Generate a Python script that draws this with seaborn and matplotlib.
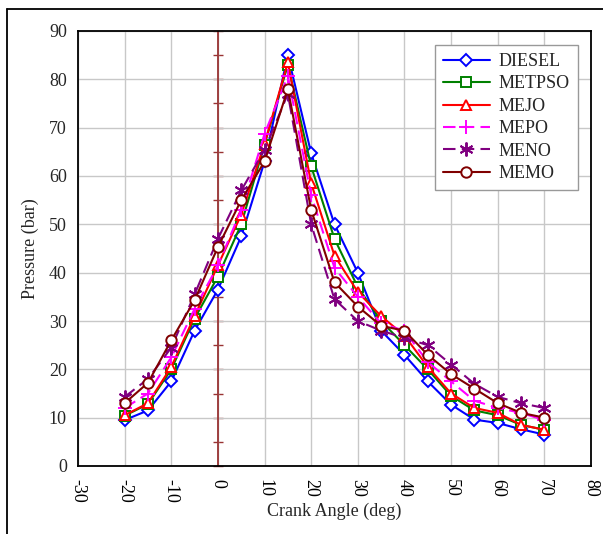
import numpy as np
import pandas as pd
import matplotlib
matplotlib.use("Agg")
import matplotlib.pyplot as plt
import seaborn as sns
from matplotlib.lines import Line2D

# ---- data ----
crank_angle = [-20, -15, -10, -5, 0, 5, 10, 15, 20, 25, 30, 35, 40, 45, 50, 55, 60, 65, 70]
diesel = [9.5, 11.5, 17.5, 28, 36.5, 47.5, 63, 85, 64.7, 50, 40, 28, 23, 17.5, 12.7, 9.6, 8.9, 7.6, 6.5]
metpso = [10.4, 12.8, 20, 30.5, 39.2, 50, 66.5, 83, 62, 47, 37, 30, 25, 20, 14.5, 11.5, 10.5, 8.5, 7.5]
mejo = [10.5, 13, 20.5, 31, 41.5, 52, 66.7, 83.5, 58.5, 43.5, 36, 31, 27, 20.5, 15, 12, 11, 8.5, 7.5]
mepo = [12, 15, 22.5, 32.5, 41.5, 53, 68.7, 80.7, 56, 41, 35, 29.5, 28, 21.5, 17.5, 13.5, 12, 11, 9.5]
meno = [14.3, 18, 24.5, 35.5, 47, 57, 65.4, 77, 50, 34.5, 30, 28, 26.5, 25, 21, 17, 14.3, 13, 12]
memo = [13, 17.2, 26, 34.3, 45.3, 55, 63, 78, 53, 38, 33, 29, 28, 23, 19, 16, 13, 11, 10]

series_names = ["DIESEL", "METPSO", "MEJO", "MEPO", "MENO", "MEMO"]
series_values = [diesel, metpso, mejo, mepo, meno, memo]
colors = ["#0000FF", "#008000", "#FF0000", "#FF00FF", "#800080", "#800000"]
markers = ["D", "s", "^", "+", (6, 2, 0), "o"]
linestyles = ["-", "-", "-", (0, (6, 3)), (0, (6, 3)), "-"]
msizes = [6.5, 7, 7.5, 10, 10, 7.5]

x_ticks = [-30, -20, -10, 0, 10, 20, 30, 40, 50, 60, 70, 80]
y_ticks = [0, 10, 20, 30, 40, 50, 60, 70, 80, 90]

sns.set_style("white")
plt.rcParams["font.family"] = ["Liberation Serif", "DejaVu Serif"]

fig = plt.figure(figsize=(6.03, 5.34), dpi=100)
ax = fig.add_axes([78 / 603, 1 - 466 / 534, (591 - 78) / 603, (466 - 31) / 534])

ax.grid(True, color="#c8c8c8", linewidth=1.0)
ax.set_axisbelow(True)

# vertical axis line at crank angle 0
ax.axvline(0, color="#993333", linewidth=1.3, zorder=2)

handles = []
for name, vals, c, m, ls, ms in zip(series_names, series_values, colors, markers, linestyles, msizes):
    df = pd.DataFrame({"angle": crank_angle, "p": vals})
    sns.lineplot(data=df, x="angle", y="p", ax=ax, color=c, linewidth=1.5,
                 linestyle=ls, marker=m, markersize=ms, markerfacecolor="white",
                 markeredgecolor=c, markeredgewidth=1.4, legend=False, zorder=3)
    handles.append(Line2D([], [], color=c, linestyle=ls, linewidth=1.5, marker=m,
                          markersize=ms, markerfacecolor="white", markeredgecolor=c,
                          markeredgewidth=1.4, label=name))

ax.set_xlim(-30, 80)
ax.set_ylim(0, 90)
ax.set_xticks(x_ticks)
ax.set_xticks(np.arange(-25, 80, 10), minor=True)
ax.set_yticks(y_ticks)
ax.set_xticklabels([str(t) for t in x_ticks], rotation=-90, fontsize=13)
ax.set_yticklabels([str(t) for t in y_ticks], fontsize=13)
ax.tick_params(axis="x", which="both", direction="inout", length=7, width=1, colors="black", pad=6)
ax.tick_params(axis="y", length=0, pad=8)
ax.set_xlabel("Crank Angle (deg)", fontsize=13, labelpad=0)
ax.set_ylabel("Pressure (bar)", fontsize=13, labelpad=7)

for s in ax.spines.values():
    s.set_visible(True)
    s.set_color("black")
    s.set_linewidth(1.3)

# tick marks on the 0-degree axis
sec = ax.secondary_yaxis(30 / 110)
sec.set_yticks(np.arange(0, 91, 5))
sec.set_yticklabels([])
for s in sec.spines.values():
    s.set_visible(False)
sec.tick_params(axis="y", direction="inout", length=7, width=1, colors="#993333")

leg = ax.legend(handles=handles, loc="upper right", bbox_to_anchor=(0.975, 0.968),
                borderaxespad=0, fontsize=13, frameon=True, fancybox=False,
                edgecolor="#999999", framealpha=1, handlelength=2.6, handletextpad=0.5,
                labelspacing=0.3, borderpad=0.45)
leg.get_frame().set_linewidth(1.0)

# outer frame (left & top lines)
fig.add_artist(Line2D([7 / 603, 7 / 603], [0, 1 - 9 / 534], transform=fig.transFigure,
                      color="black", linewidth=1.3))
fig.add_artist(Line2D([7 / 603, 1], [1 - 9 / 534, 1 - 9 / 534], transform=fig.transFigure,
                      color="black", linewidth=1.3))

fig.savefig("out.png", dpi=100)
